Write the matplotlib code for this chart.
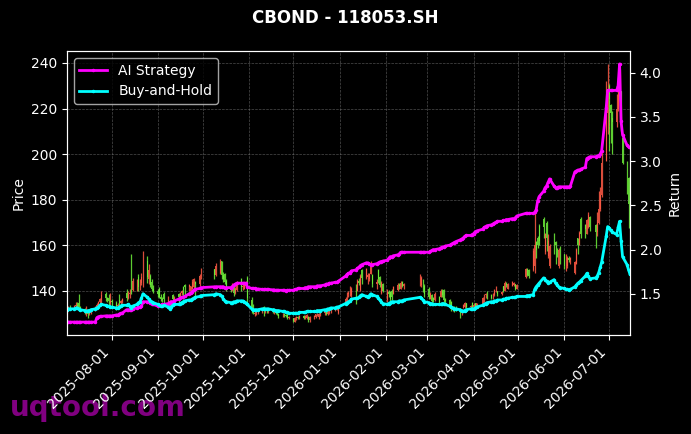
import numpy as np
import pandas as pd
import matplotlib
matplotlib.use('Agg')
import matplotlib.pyplot as plt
import matplotlib.dates as mdates

# 交易日 (沪深节假日除外)
holidays = ['2025-10-01', '2025-10-02', '2025-10-03', '2025-10-06', '2025-10-07', '2025-10-08',
            '2026-01-01', '2026-01-02',
            '2026-02-16', '2026-02-17', '2026-02-18', '2026-02-19', '2026-02-20', '2026-02-23',
            '2026-04-06', '2026-05-01', '2026-05-04', '2026-05-05', '2026-06-19']
dates = pd.bdate_range('2025-07-02', '2026-07-15', freq='C', holidays=holidays)

# K线数据 (每行一个月)
opens = [
    131.5, 132.0, 133.0, 132.5, 133.5, 134.0, 134.5, 133.0, 132.0, 130.0, 131.5, 130.0, 131.0, 132.0, 133.0, 134.0, 135.0, 136.0, 138.5, 137.0, 137.0, 134.5,
    135.5, 134.5, 133.5, 136.0, 134.5, 135.5, 139.0, 137.0, 138.5, 142.0, 140.5, 141.0, 146.0, 141.5, 143.5, 146.0, 153.0, 145.0, 146.5, 144.0, 141.0,
    140.0, 141.0, 137.5, 136.5, 138.5, 134.0, 135.5, 133.5, 138.0, 135.0, 138.5, 137.5, 139.0, 141.5, 142.5, 141.5, 140.0, 141.0, 141.5, 144.0, 143.0, 145.5,
    149.5, 147.0, 148.0, 153.0, 147.0, 147.5, 144.5, 141.0, 140.5, 142.0, 139.0, 140.5, 145.0, 141.5, 141.0, 142.0, 145.5,
    136.0, 132.0, 130.0, 130.5, 131.0, 131.5, 133.0, 131.5, 132.0, 131.5, 132.0, 131.0, 131.5, 130.5, 129.8, 129.0, 130.0, 129.5, 129.7, 128.0,
    128.0, 126.5, 128.0, 128.5, 128.0, 129.0, 128.2, 128.0, 128.5, 127.0, 128.5, 128.5, 129.8, 128.5, 130.0, 130.5, 131.5, 130.0, 131.0, 131.5, 132.0, 132.5, 130.5,
    134.2, 135.0, 138.5, 138.0, 138.0, 142.5, 140.0, 144.5, 140.5, 149.0, 145.5, 146.0, 145.0, 147.5, 147.0, 143.0, 149.0, 146.0, 139.0, 143.0,
    136.0, 139.5, 139.5, 140.0, 138.5, 140.5, 142.5, 141.0, 144.0, 142.0, 143.0, 142.5, 144.5, 142.0,
    141.0, 136.5, 138.0, 137.0, 136.0, 137.5, 137.5, 140.0, 140.5, 136.0, 136.0, 135.0, 132.0, 132.5, 132.5, 131.8, 130.5, 132.7, 133.0, 134.5, 133.0, 134.5,
    132.8, 134.5, 133.0, 134.2, 135.0, 138.0, 139.5, 138.3, 137.0, 138.0, 139.5, 140.0, 138.5, 142.0, 140.0, 143.0, 141.0, 142.2, 142.5, 142.9, 141.0,
    146.0, 149.5, 149.0, 149.0, 151.0, 161.5, 163.0, 168.5, 171.5, 157.0, 170.0, 155.5, 151.0, 165.0, 161.5, 158.0, 151.0, 159.5,
    156.0, 150.5, 151.0, 154.5, 153.5, 148.0, 152.0, 163.0, 160.0, 171.5, 169.0, 165.0, 168.0, 172.5, 169.0, 166.0, 170.0, 176.0, 182.0, 197.0, 218.0,
    230.0, 221.5, 216.0, 214.0, 220.0, 229.0, 227.5, 207.0, 197.0, 189.5, 186.5,
]
highs = [
    133.0, 133.5, 134.0, 134.0, 135.0, 135.0, 138.5, 133.5, 132.5, 133.5, 132.0, 131.5, 132.5, 133.5, 134.5, 135.5, 137.0, 140.0, 139.5, 137.5, 138.7, 139.0,
    136.5, 135.5, 134.5, 138.7, 136.0, 137.0, 141.0, 140.0, 141.0, 156.0, 145.8, 145.3, 147.5, 145.0, 148.0, 157.6, 155.4, 151.9, 147.5, 145.3, 142.5,
    141.0, 141.5, 138.5, 137.5, 139.3, 137.8, 136.0, 136.0, 138.7, 137.8, 139.0, 139.5, 140.5, 142.2, 143.1, 143.0, 142.2, 145.1, 145.8, 144.4, 147.3, 150.2,
    149.7, 152.4, 153.9, 153.2, 148.5, 148.0, 145.1, 142.5, 143.6, 142.2, 141.5, 144.4, 145.8, 143.0, 143.6, 144.4, 146.6,
    137.1, 134.3, 131.0, 131.5, 132.0, 132.5, 133.4, 132.5, 132.5, 132.5, 132.5, 132.0, 132.0, 131.0, 129.9, 130.5, 130.5, 130.0, 129.9, 129.0,
    128.3, 128.6, 129.0, 129.0, 129.5, 129.5, 129.5, 129.8, 128.8, 128.8, 129.5, 130.0, 130.5, 130.3, 131.0, 131.5, 131.8, 131.5, 132.0, 132.5, 133.0, 133.5, 132.7,
    137.1, 139.3, 140.0, 142.2, 141.5, 142.9, 145.3, 145.5, 147.3, 149.5, 150.2, 148.0, 148.0, 153.2, 147.3, 145.0, 149.5, 146.6, 144.4, 143.6,
    140.7, 140.5, 140.0, 140.7, 142.2, 143.6, 143.5, 144.4, 144.4, 143.5, 147.3, 146.6, 145.1, 142.9,
    141.5, 139.3, 138.5, 137.5, 139.3, 137.8, 140.7, 140.7, 140.7, 137.0, 136.4, 135.6, 133.5, 133.4, 133.4, 132.5, 132.0, 134.2, 134.9, 134.6, 134.0, 134.9,
    134.5, 134.8, 134.8, 137.1, 138.5, 139.0, 140.0, 138.5, 139.0, 140.7, 142.2, 140.0, 140.0, 142.2, 144.4, 144.0, 143.6, 144.4, 144.0, 142.9, 143.0,
    150.2, 150.0, 149.5, 159.0, 175.9, 162.0, 164.0, 169.3, 172.2, 165.6, 170.8, 164.9, 160.5, 165.6, 162.0, 159.0, 159.0, 159.8,
    156.1, 156.1, 155.4, 155.5, 155.0, 153.2, 159.0, 163.4, 166.4, 172.2, 169.3, 171.5, 174.4, 173.0, 169.3, 174.4, 184.0, 185.4, 201.5, 232.3, 239.6,
    230.9, 222.1, 219.1, 226.5, 233.8, 237.5, 227.9, 207.4, 197.1, 189.8, 187.0,
]
lows = [
    130.5, 131.0, 131.5, 131.5, 132.5, 132.5, 131.0, 131.0, 130.0, 129.0, 128.3, 129.5, 130.0, 131.0, 132.0, 133.0, 134.0, 134.0, 135.5, 135.0, 133.5, 134.0,
    133.5, 131.5, 132.0, 133.5, 133.5, 134.5, 135.5, 136.5, 137.0, 138.5, 140.0, 140.0, 140.0, 140.5, 142.5, 141.5, 143.6, 143.1, 141.5, 140.0, 139.0,
    137.5, 137.0, 135.5, 135.0, 133.4, 133.4, 132.5, 133.0, 135.6, 133.4, 134.0, 136.5, 138.0, 136.4, 137.8, 140.0, 139.3, 140.7, 140.0, 137.8, 142.2, 145.1,
    145.3, 146.6, 147.3, 145.1, 144.0, 143.0, 140.0, 139.5, 140.0, 137.8, 138.5, 140.0, 140.0, 140.5, 140.7, 141.5, 134.9,
    130.5, 129.9, 129.0, 129.5, 130.0, 130.5, 129.0, 130.5, 130.5, 130.5, 130.5, 130.0, 130.0, 129.5, 128.3, 128.5, 128.5, 128.5, 127.7, 127.5,
    126.4, 126.3, 127.0, 127.5, 127.5, 127.6, 127.5, 127.5, 126.5, 126.5, 127.5, 128.0, 129.0, 127.8, 129.0, 129.5, 129.5, 129.5, 130.0, 130.5, 131.0, 131.5, 129.8,
    134.0, 134.9, 137.5, 137.8, 137.1, 134.2, 140.0, 142.5, 140.0, 142.9, 145.1, 142.9, 144.4, 147.3, 141.5, 141.0, 143.6, 141.5, 138.5, 139.3,
    134.9, 137.5, 135.6, 136.2, 138.5, 140.0, 141.0, 140.7, 141.5, 141.0, 142.2, 141.5, 139.3, 137.1,
    136.4, 136.4, 134.9, 135.0, 135.6, 134.2, 137.1, 137.5, 134.9, 134.5, 132.7, 131.2, 131.0, 130.8, 131.2, 128.3, 129.5, 132.7, 132.7, 132.4, 132.0, 132.7,
    132.5, 132.5, 132.7, 134.2, 134.9, 137.0, 136.4, 136.4, 136.5, 137.8, 139.3, 137.8, 138.0, 139.3, 140.0, 141.5, 140.7, 142.2, 142.0, 140.3, 140.8,
    145.8, 146.5, 145.8, 148.8, 148.0, 154.6, 159.0, 160.0, 163.4, 156.1, 157.6, 154.6, 150.2, 156.1, 151.7, 155.0, 150.2, 151.7,
    149.5, 148.8, 150.2, 152.5, 152.0, 147.3, 151.7, 156.1, 160.0, 163.4, 163.4, 164.9, 167.8, 166.4, 159.0, 164.0, 169.3, 175.2, 181.0, 197.0, 208.9,
    201.5, 205.0, 200.1, 211.8, 219.1, 223.5, 210.3, 195.7, 182.5, 167.8, 169.5,
]
closes = [
    132.0, 133.0, 132.5, 133.5, 134.0, 133.5, 133.0, 132.0, 131.0, 131.5, 130.0, 131.0, 132.0, 133.0, 134.0, 135.0, 136.5, 138.0, 137.0, 136.0, 135.5, 135.5,
    135.0, 133.5, 134.0, 134.5, 135.5, 136.5, 137.0, 138.5, 139.0, 139.0, 144.5, 144.0, 141.5, 143.5, 146.0, 153.0, 146.0, 149.0, 142.5, 141.0, 140.0,
    138.5, 137.5, 136.5, 136.0, 136.5, 136.0, 133.5, 135.0, 136.5, 137.0, 137.5, 139.0, 140.0, 140.5, 141.5, 142.5, 142.0, 144.0, 145.0, 143.0, 146.5, 148.5,
    147.0, 151.0, 152.5, 147.0, 145.0, 144.0, 141.0, 140.5, 142.5, 139.0, 141.0, 143.5, 141.5, 142.0, 143.0, 144.0, 137.0,
    131.5, 131.0, 130.5, 131.0, 131.5, 132.0, 131.5, 132.0, 131.5, 132.0, 131.0, 131.5, 130.5, 130.0, 128.8, 130.0, 129.5, 129.0, 128.0, 128.5,
    126.8, 128.0, 128.5, 128.0, 129.0, 128.2, 129.0, 129.5, 127.0, 128.5, 129.0, 129.8, 130.0, 130.0, 130.5, 131.0, 130.0, 131.0, 131.5, 132.0, 132.5, 133.0, 132.5,
    136.5, 138.5, 139.0, 141.5, 141.0, 139.0, 144.5, 143.5, 146.5, 145.5, 149.5, 147.0, 147.5, 152.0, 143.0, 144.0, 145.0, 142.5, 143.5, 140.0,
    139.5, 138.5, 136.5, 137.5, 141.5, 142.5, 142.0, 143.5, 142.0, 143.0, 146.5, 145.5, 140.5, 138.5,
    137.5, 138.5, 135.5, 136.0, 138.5, 135.0, 140.0, 138.0, 136.0, 135.5, 133.5, 132.0, 132.5, 131.5, 131.8, 130.5, 131.5, 134.0, 134.5, 133.0, 133.5, 133.0,
    134.0, 133.5, 134.5, 136.8, 138.0, 138.5, 137.0, 137.0, 138.5, 140.5, 141.5, 138.5, 139.5, 140.0, 143.5, 142.5, 143.0, 144.0, 143.5, 141.0, 142.5,
    149.5, 147.0, 146.5, 157.5, 160.0, 158.0, 160.0, 162.0, 168.0, 165.0, 163.0, 162.0, 159.5, 164.0, 160.0, 157.0, 158.0, 156.0,
    151.0, 155.0, 154.5, 153.5, 154.5, 152.5, 158.0, 160.0, 165.5, 165.0, 167.0, 171.0, 173.5, 168.0, 166.0, 171.0, 176.0, 182.0, 196.0, 218.0, 228.0,
    224.0, 218.0, 214.0, 220.0, 229.0, 232.0, 211.0, 196.0, 184.0, 178.0, 172.5,
]

# 收益曲线
ai_return = [
    1.18, 1.18, 1.18, 1.18, 1.18, 1.18, 1.18, 1.18, 1.18, 1.18, 1.18, 1.18, 1.18, 1.18, 1.23, 1.24, 1.245, 1.245, 1.25, 1.25, 1.25, 1.25,
    1.25, 1.26, 1.26, 1.27, 1.28, 1.28, 1.32, 1.32, 1.32, 1.32, 1.33, 1.34, 1.35, 1.35, 1.36, 1.41, 1.41, 1.41, 1.40, 1.39, 1.38,
    1.36, 1.37, 1.37, 1.38, 1.38, 1.39, 1.40, 1.41, 1.41, 1.42, 1.44, 1.45, 1.46, 1.46, 1.47, 1.50, 1.51, 1.52, 1.54, 1.55, 1.56, 1.57,
    1.58, 1.58, 1.58, 1.58, 1.58, 1.57, 1.57, 1.57, 1.58, 1.60, 1.61, 1.62, 1.62, 1.62, 1.62, 1.62, 1.58,
    1.56, 1.56, 1.56, 1.555, 1.555, 1.55, 1.55, 1.55, 1.55, 1.55, 1.545, 1.545, 1.54, 1.54, 1.54, 1.54, 1.54, 1.535, 1.54, 1.54,
    1.54, 1.55, 1.55, 1.56, 1.56, 1.56, 1.57, 1.57, 1.58, 1.58, 1.58, 1.58, 1.59, 1.59, 1.59, 1.60, 1.61, 1.61, 1.62, 1.62, 1.63, 1.63, 1.64,
    1.70, 1.72, 1.73, 1.74, 1.76, 1.77, 1.79, 1.80, 1.82, 1.83, 1.85, 1.85, 1.84, 1.83, 1.83, 1.84, 1.85, 1.86, 1.865, 1.87,
    1.88, 1.90, 1.92, 1.92, 1.93, 1.94, 1.95, 1.97, 1.97, 1.97, 1.97, 1.97, 1.97, 1.97,
    1.97, 1.98, 1.99, 2.00, 2.00, 2.01, 2.02, 2.03, 2.03, 2.04, 2.05, 2.06, 2.07, 2.08, 2.09, 2.11, 2.12, 2.13, 2.15, 2.16, 2.16, 2.17,
    2.18, 2.20, 2.21, 2.23, 2.25, 2.26, 2.27, 2.28, 2.29, 2.30, 2.31, 2.32, 2.32, 2.33, 2.33, 2.34, 2.34, 2.35, 2.35, 2.36, 2.38,
    2.41, 2.41, 2.41, 2.41, 2.42, 2.45, 2.55, 2.60, 2.66, 2.70, 2.72, 2.76, 2.80, 2.72, 2.70, 2.70, 2.71, 2.71,
    2.71, 2.71, 2.71, 2.71, 2.72, 2.88, 2.89, 2.90, 2.90, 2.91, 2.93, 3.03, 3.04, 3.05, 3.05, 3.06, 3.06, 3.08, 3.12, 3.60, 3.80,
    3.80, 3.80, 3.80, 3.80, 3.85, 4.10, 3.45, 3.30, 3.18, 3.16, 3.16,
]
bh_return = [
    1.32, 1.33, 1.33, 1.33, 1.34, 1.34, 1.33, 1.32, 1.31, 1.30, 1.31, 1.31, 1.32, 1.33, 1.34, 1.35, 1.37, 1.38, 1.37, 1.36, 1.36, 1.35,
    1.35, 1.34, 1.34, 1.35, 1.36, 1.37, 1.37, 1.38, 1.36, 1.34, 1.36, 1.38, 1.40, 1.41, 1.45, 1.50, 1.46, 1.44, 1.42, 1.41, 1.40,
    1.38, 1.37, 1.36, 1.36, 1.37, 1.35, 1.33, 1.35, 1.37, 1.38, 1.38, 1.39, 1.40, 1.41, 1.42, 1.43, 1.43, 1.44, 1.45, 1.46, 1.47, 1.48,
    1.49, 1.50, 1.49, 1.47, 1.44, 1.42, 1.41, 1.40, 1.40, 1.41, 1.41, 1.42, 1.42, 1.42, 1.41, 1.40, 1.38,
    1.33, 1.32, 1.32, 1.32, 1.32, 1.33, 1.33, 1.33, 1.33, 1.33, 1.32, 1.32, 1.31, 1.31, 1.31, 1.30, 1.30, 1.29, 1.29, 1.28,
    1.28, 1.28, 1.28, 1.28, 1.29, 1.29, 1.29, 1.30, 1.30, 1.30, 1.30, 1.30, 1.31, 1.31, 1.31, 1.32, 1.32, 1.33, 1.33, 1.34, 1.34, 1.35, 1.35,
    1.39, 1.40, 1.41, 1.42, 1.44, 1.45, 1.45, 1.46, 1.48, 1.49, 1.47, 1.46, 1.48, 1.50, 1.49, 1.47, 1.45, 1.43, 1.41, 1.39,
    1.38, 1.39, 1.40, 1.41, 1.41, 1.41, 1.42, 1.42, 1.42, 1.43, 1.46, 1.45, 1.43, 1.41,
    1.40, 1.39, 1.39, 1.38, 1.38, 1.38, 1.38, 1.39, 1.39, 1.38, 1.36, 1.35, 1.34, 1.33, 1.33, 1.32, 1.31, 1.30, 1.31, 1.32, 1.33, 1.33,
    1.33, 1.34, 1.35, 1.37, 1.38, 1.39, 1.40, 1.41, 1.41, 1.42, 1.42, 1.43, 1.43, 1.44, 1.44, 1.45, 1.45, 1.46, 1.46, 1.46, 1.47,
    1.47, 1.48, 1.48, 1.49, 1.55, 1.58, 1.60, 1.62, 1.68, 1.66, 1.64, 1.62, 1.63, 1.66, 1.62, 1.60, 1.58, 1.57,
    1.56, 1.55, 1.55, 1.54, 1.55, 1.58, 1.60, 1.62, 1.63, 1.65, 1.70, 1.73, 1.70, 1.67, 1.68, 1.70, 1.74, 1.80, 1.86, 2.15, 2.26,
    2.24, 2.22, 2.20, 2.17, 2.25, 2.32, 2.10, 1.92, 1.83, 1.77, 1.72,
]

assert len(dates) == len(opens) == len(highs) == len(lows) == len(closes) == len(ai_return) == len(bh_return), \
    (len(dates), len(opens), len(highs), len(lows), len(closes), len(ai_return), len(bh_return))

o = np.array(opens)
h = np.array(highs)
l = np.array(lows)
c = np.array(closes)

plt.style.use('dark_background')
fig = plt.figure(figsize=(6.91, 4.34), dpi=100)
ax = fig.add_axes([67 / 691, 1 - 335 / 434, (630 - 67) / 691, (335 - 51) / 434])

# 红涨绿跌
colors = np.where(c >= o, '#ff5a45', '#6ef03a')
ax.vlines(dates, l, h, colors=colors, linewidth=0.9, alpha=0.85)
ax.bar(dates, np.abs(c - o), bottom=np.minimum(o, c), width=0.6, color=colors, alpha=0.85)

ax.set_ylabel('Price')
ax.grid(True, linestyle='--', color='gray', linewidth=0.5, alpha=0.6)
ax.xaxis.set_major_locator(mdates.MonthLocator())
ax.xaxis.set_major_formatter(mdates.DateFormatter('%Y-%m-%d'))
plt.setp(ax.get_xticklabels(), rotation=45, ha='right')

ax2 = ax.twinx()
ax2.plot(dates, ai_return, color='#ff00ff', linewidth=2, marker='o', markersize=1.5, label='AI Strategy')
ax2.plot(dates, bh_return, color='#00ffff', linewidth=2, marker='o', markersize=1.5, label='Buy-and-Hold')
ax2.set_ylabel('Return')
ax2.legend(loc='upper left')
ax.set_xlim(dates[0], dates[-1])

fig.text(0.5, 1 - 18 / 434, 'CBOND - 118053.SH', ha='center', va='center', fontsize=12, fontweight='bold')
fig.text(10 / 691, 1 - 408 / 434, 'uqtool.com', ha='left', va='center', fontsize=20,
         fontweight='bold', color='purple', zorder=-1)

fig.savefig('out.png', dpi=100)
